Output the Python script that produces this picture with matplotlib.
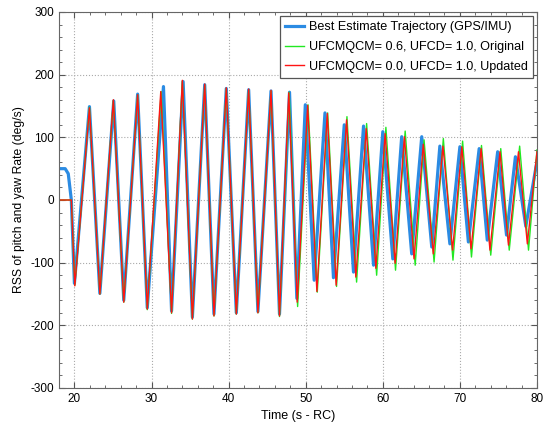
import matplotlib
matplotlib.use('Agg')
import matplotlib.pyplot as plt
from matplotlib.ticker import MultipleLocator

plt.rcParams['font.family'] = ['Liberation Sans', 'DejaVu Sans']
plt.rcParams['axes.unicode_minus'] = False

# ---- data: extrema (time s, deg/s) ----
blue_t = [18.0, 18.8, 19.2, 19.6,
          20.0, 21.95, 23.3, 25.1, 26.4, 28.2, 29.45, 31.55, 32.6, 34.1, 35.3, 36.9,
          38.1, 39.7, 41.0, 42.6, 43.8, 45.5, 46.6, 47.9, 48.85, 49.95, 51.1, 52.5,
          53.6, 55.0, 56.2, 57.5, 58.8, 60.0, 61.3, 62.45, 63.75, 65.05, 66.35, 67.4,
          68.7, 70.0, 71.1, 72.5, 73.55, 74.9, 76.05, 77.2, 78.55, 80.0]
blue_v = [50, 50, 42, 0,
          -133, 149, -149, 158, -160, 169, -172, 181, -177, 189, -187, 184,
          -182, 178, -180, 176, -178, 174, -182, 172, -157, 152, -128, 139,
          -124, 120, -115, 118, -104, 109, -94, 101, -86, 101, -75, 86,
          -70, 85, -67, 82, -64, 77, -56, 69, -42, 62]

green_t = [18.0, 19.6,
           20.05, 21.95, 23.3, 25.05, 26.4, 28.2, 29.45, 31.25, 32.6, 34.0, 35.3, 36.9,
           38.1, 39.7, 41.0, 42.6, 43.8, 45.5, 46.6, 47.85, 48.95, 50.3, 51.5, 52.85,
           54.0, 55.35, 56.6, 57.9, 59.2, 60.4, 61.65, 62.9, 64.2, 65.35, 66.65, 67.85,
           69.1, 70.35, 71.5, 72.8, 74.0, 75.3, 76.4, 77.75, 78.9, 80.0]
green_v = [0, 0,
           -136, 148, -150, 159, -163, 168, -175, 173, -181, 190, -190, 184,
           -185, 178, -182, 176, -180, 174, -186, 172, -170, 152, -147, 139,
           -138, 133, -131, 122, -120, 116, -112, 110, -104, 96, -99, 98,
           -96, 94, -91, 87, -88, 82, -80, 86, -80, 80]

red_t = [18.0, 19.6,
         20.05, 21.95, 23.3, 25.05, 26.4, 28.2, 29.45, 31.2, 32.6, 34.0, 35.3, 36.9,
         38.1, 39.7, 41.0, 42.6, 43.8, 45.5, 46.6, 47.8, 48.9, 50.25, 51.45, 52.8,
         53.95, 55.3, 56.5, 57.85, 59.1, 60.3, 61.6, 62.8, 64.05, 65.25, 66.55, 67.8,
         69.05, 70.25, 71.45, 72.75, 73.9, 75.2, 76.3, 77.6, 78.75, 80.0]
red_v = [0, 0,
         -137, 147, -150, 160, -163, 168, -174, 173, -180, 191, -190, 185,
         -185, 179, -182, 177, -180, 175, -185, 171, -163, 151, -146, 138,
         -136, 128, -123, 114, -109, 106, -101, 101, -94, 89, -86, 86,
         -80, 85, -78, 82, -80, 77, -72, 77, -70, 77]

labels = ['Best Estimate Trajectory (GPS/IMU)',
          'UFCMQCM= 0.6, UFCD= 1.0, Original',
          'UFCMQCM= 0.0, UFCD= 1.0, Updated']
x_ticks = [20, 30, 40, 50, 60, 70, 80]
y_ticks = [-300, -200, -100, 0, 100, 200, 300]

fig = plt.figure(figsize=(5.47, 4.30), dpi=100)
ax = fig.add_axes([59 / 547, 42 / 430, 478 / 547, 376 / 430])

ax.plot(blue_t, blue_v, color='#2b8be3', lw=2.3, solid_joinstyle='round', label=labels[0])
ax.plot(green_t, green_v, color='#22e822', lw=1.0, solid_joinstyle='round', label=labels[1])
ax.plot(red_t, red_v, color='#ff1414', lw=1.0, solid_joinstyle='round', label=labels[2])

ax.set_xlim(18, 80)
ax.set_ylim(-300, 300)
ax.set_xticks(x_ticks)
ax.set_yticks(y_ticks)
ax.xaxis.set_minor_locator(MultipleLocator(2))
ax.yaxis.set_minor_locator(MultipleLocator(20))
ax.tick_params(which='both', direction='in', top=True, right=True, labelsize=8.5,
               color='#555555')
ax.tick_params(which='major', length=4)
ax.tick_params(which='minor', length=2)
ax.grid(True, which='major', linestyle=':', color='#aaaaaa', lw=0.8)
for s in ax.spines.values():
    s.set_color('#666666')

ax.set_xlabel('Time (s - RC)', fontsize=9)
ax.set_ylabel('RSS of pitch and yaw Rate (deg/s)', fontsize=8.7)

leg = ax.legend(loc='upper right', fontsize=9.1, fancybox=False, framealpha=1,
                edgecolor='#555555', handlelength=1.5, borderaxespad=0.35,
                labelspacing=0.6, handletextpad=0.35, borderpad=0.4)
leg.get_frame().set_linewidth(0.9)

fig.savefig('out.png', dpi=100)
